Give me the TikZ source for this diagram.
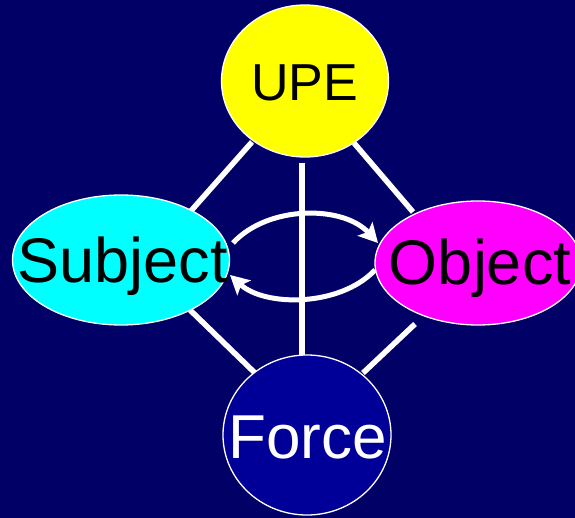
\documentclass[tikz,border=0pt]{standalone}
\usepackage{fontspec}
\setmainfont{Liberation Sans}
\usetikzlibrary{shapes.geometric,arrows.meta}
\definecolor{bgnavy}{RGB}{0,0,102}
\definecolor{forceblue}{RGB}{0,0,153}
\definecolor{pureyellow}{RGB}{255,255,0}
\definecolor{purecyan}{RGB}{0,255,255}
\definecolor{puremagenta}{RGB}{255,0,255}
\begin{document}
\begin{tikzpicture}[x=1pt,y=-1pt,
  bubble/.style={ellipse, draw=white, line width=1.3pt, inner sep=0pt},
  wordtxt/.style={anchor=base, inner sep=0pt, font=\fontsize{63}{63}\selectfont},
  link/.style={draw=white, line width=5.5pt},
  flow/.style={draw=white, line width=5pt, -{Stealth[length=19pt,width=20pt,inset=4pt]}}]
\fill[bgnavy] (0,0) rectangle (575,518);
\useasboundingbox (0,0) rectangle (575,518);
% line end points
\coordinate (c1) at (252,142); \coordinate (c2) at (190,212);
\coordinate (c3) at (354,143); \coordinate (c4) at (413,212);
\coordinate (c5) at (302,163); \coordinate (c6) at (302,356);
\coordinate (c7) at (190,310); \coordinate (c8) at (255,373);
\coordinate (c9) at (363,373); \coordinate (c10) at (415,324);
\draw[link] (c1) -- (c2);
\draw[link] (c3) -- (c4);
\draw[link] (c5) -- (c6);
\draw[link] (c7) -- (c8);
\draw[link] (c9) -- (c10);
% ellipses
\node[bubble, fill=pureyellow, minimum width=167pt, minimum height=152pt] (U) at (305,81) {};
\node[bubble, fill=purecyan, minimum width=217pt, minimum height=130pt] (S) at (121,260) {};
\node[bubble, fill=puremagenta, minimum width=206pt, minimum height=124pt] (O) at (478,263) {};
\node[bubble, fill=forceblue, minimum width=168pt, minimum height=160pt] (F) at (307,435) {};
% texts
\node[wordtxt, font=\fontsize{52}{52}\selectfont, text=black] (Ut) at (304.5,101) {UPE};
\node[wordtxt, text=black] (St) at (122.5,283) {Subject};
\node[wordtxt, text=black] (Ot) at (480,285) {Object};
\node[wordtxt, font=\fontsize{62}{62}\selectfont, text=white] (Ft) at (307.5,458) {Force};
% arcs
\coordinate (a1) at (233,243); \coordinate (a2) at (378,243);
\coordinate (a3) at (375,270); \coordinate (a4) at (230,275);
\draw[flow] (a1) .. controls (268,205) and (343,205) .. (a2);
\draw[flow] (a3) .. controls (340,307) and (265,307) .. (a4);
\end{tikzpicture}
\end{document}
